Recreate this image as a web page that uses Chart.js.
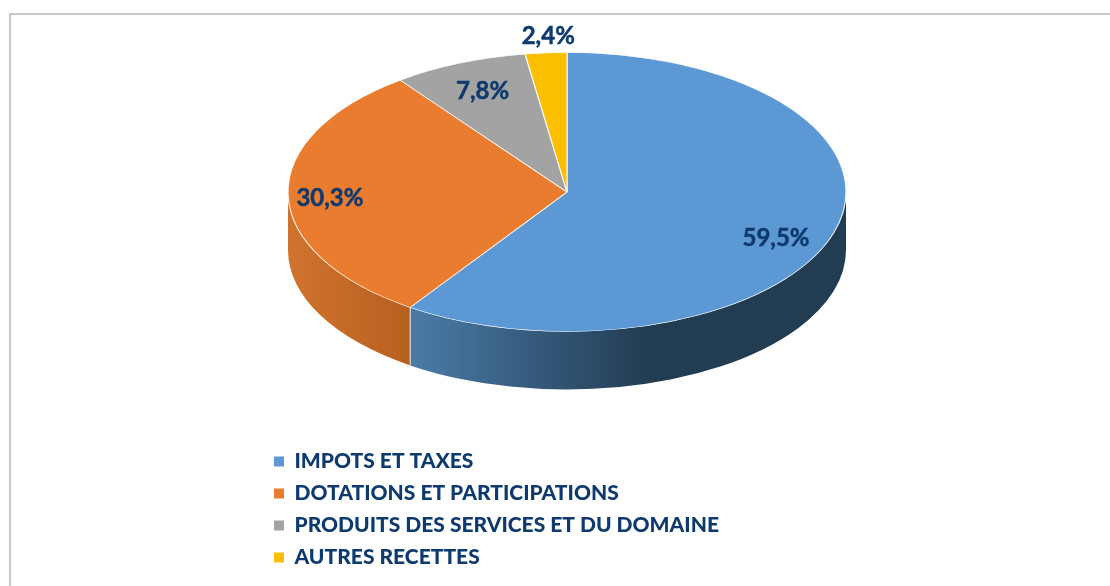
<!DOCTYPE html>
<html lang="fr">
<head>
<meta charset="utf-8">
<title>Recettes</title>
<script src="https://cdn.jsdelivr.net/npm/chart.js@4"></script>
<style>
  html, body { margin: 0; padding: 0; background: #fff; }
  canvas { display: block; }
</style>
</head>
<body>
<canvas id="grafico" width="1110" height="586"></canvas>
<script>
// Données du graphique
const categories = ['IMPOTS ET TAXES', 'DOTATIONS ET PARTICIPATIONS', 'PRODUITS DES SERVICES ET DU DOMAINE', 'AUTRES RECETTES'];
const valeurs = [59.5, 30.3, 7.8, 2.4];
const couleurs = ['#5b98d4', '#ea7c30', '#a3a3a3', '#fcbf00'];

// Flanc du camembert : couleur de gauche et de droite pour chaque part
const flancs = [['#4a7ba8', '#223c52', 0.55], ['#d0742f', '#b8601f', 1], ['#a5a5a5', '#a5a5a5', 1], ['#ffc000', '#ffc000', 1]];

// Placement des étiquettes : fraction du rayon, puis petit décalage en pixels
const etiquetteRayon = [0.78, 0.85, 0.785, 1.13];
const etiquetteDx = [1, 0, 0, 5];
const etiquetteDy = [14, 4, 0, 1];

const ECRASEMENT = 0.5;
const EPAISSEUR = 58;
const BLEU_TEXTE = '#0f3a6e';

// Cadre gris autour du graphique
const pluginCadre = {
  id: 'cadre',
  beforeDraw(chart) {
    const ctx = chart.ctx;
    ctx.save();
    ctx.strokeStyle = '#c8c8c8';
    ctx.lineWidth = 2;
    ctx.beginPath();
    ctx.moveTo(10, chart.height);
    ctx.lineTo(10, 14);
    ctx.lineTo(chart.width, 14);
    ctx.stroke();
    ctx.restore();
  }
};

// Place la légende sous le camembert
const pluginLegende = {
  id: 'legendeBas',
  afterLayout(chart) {
    const legende = chart.legend;
    const hauteur = legende.height;
    legende.left = 263;
    legende.right = legende.left + legende.width;
    legende.top = 440;
    legende.bottom = legende.top + hauteur;
  }
};

// Dessine le flanc puis écrase les parts pour donner la perspective
const plugin3d = {
  id: 'perspective',
  beforeDatasetsDraw(chart) {
    const ctx = chart.ctx;
    const arcs = chart.getDatasetMeta(0).data;

    arcs.forEach((arc, i) => {
      const debut = Math.max(arc.startAngle, 0);
      const fin = Math.min(arc.endAngle, Math.PI);
      if (fin <= debut) return;

      const rx = arc.outerRadius;
      const ry = rx * ECRASEMENT;
      const x1 = arc.x + rx * Math.cos(fin);
      const x2 = arc.x + rx * Math.cos(debut);
      const degrade = ctx.createLinearGradient(x1, 0, x2, 0);
      degrade.addColorStop(0, flancs[i][0]);
      degrade.addColorStop(flancs[i][2], flancs[i][1]);
      degrade.addColorStop(1, flancs[i][1]);

      ctx.save();
      ctx.beginPath();
      ctx.ellipse(arc.x, arc.y, rx, ry, 0, debut, fin);
      ctx.ellipse(arc.x, arc.y + EPAISSEUR, rx, ry, 0, fin, debut, true);
      ctx.closePath();
      ctx.fillStyle = degrade;
      ctx.fill();

      // Trait clair entre deux flancs
      if (debut > 0) {
        const xs = arc.x + rx * Math.cos(debut);
        const ys = arc.y + ry * Math.sin(debut);
        ctx.strokeStyle = 'rgba(255,255,255,0.8)';
        ctx.lineWidth = 1;
        ctx.beginPath();
        ctx.moveTo(xs, ys);
        ctx.lineTo(xs, ys + EPAISSEUR);
        ctx.stroke();
      }
      ctx.restore();
    });

    const centre = arcs[0];
    ctx.save();
    ctx.translate(centre.x, centre.y);
    ctx.scale(1, ECRASEMENT);
    ctx.translate(-centre.x, -centre.y);
  },
  afterDatasetsDraw(chart) {
    chart.ctx.restore();
  }
};

// Étiquettes de pourcentage
const pluginEtiquettes = {
  id: 'etiquettes',
  afterDraw(chart) {
    const ctx = chart.ctx;
    const arcs = chart.getDatasetMeta(0).data;
    ctx.save();
    ctx.font = 'bold 24px Lato';
    ctx.fillStyle = BLEU_TEXTE;
    ctx.strokeStyle = BLEU_TEXTE;
    ctx.lineWidth = 0.5;
    ctx.textAlign = 'center';
    ctx.textBaseline = 'middle';
    arcs.forEach((arc, i) => {
      const milieu = (arc.startAngle + arc.endAngle) / 2;
      const r = arc.outerRadius * etiquetteRayon[i];
      const x = arc.x + r * Math.cos(milieu) + etiquetteDx[i];
      const y = arc.y + r * ECRASEMENT * Math.sin(milieu) + etiquetteDy[i];
      const texte = valeurs[i].toFixed(1).replace('.', ',') + '%';
      ctx.fillText(texte, x, y);
      ctx.strokeText(texte, x, y);
    });
    ctx.restore();
  }
};

new Chart(document.getElementById('grafico').getContext('2d'), {
  type: 'pie',
  data: {
    labels: categories,
    datasets: [{
      data: valeurs,
      backgroundColor: couleurs,
      borderColor: 'rgba(255,255,255,0.85)',
      borderWidth: 1.2
    }]
  },
  plugins: [pluginCadre, plugin3d, pluginLegende, pluginEtiquettes],
  options: {
    responsive: false,
    animation: false,
    radius: 279,
    layout: { padding: { left: 24, bottom: 202 } },
    plugins: {
      tooltip: { enabled: false },
      legend: {
        position: 'chartArea',
        align: 'start',
        labels: {
          boxWidth: 10,
          boxHeight: 10,
          padding: 11,
          font: { family: 'Lato', size: 21, weight: '900' },
          generateLabels(chart) {
            return categories.map((nom, i) => ({
              text: nom,
              fillStyle: couleurs[i],
              strokeStyle: couleurs[i],
              fontColor: BLEU_TEXTE,
              lineWidth: 0,
              index: i
            }));
          }
        }
      }
    }
  }
});
</script>
</body>
</html>
